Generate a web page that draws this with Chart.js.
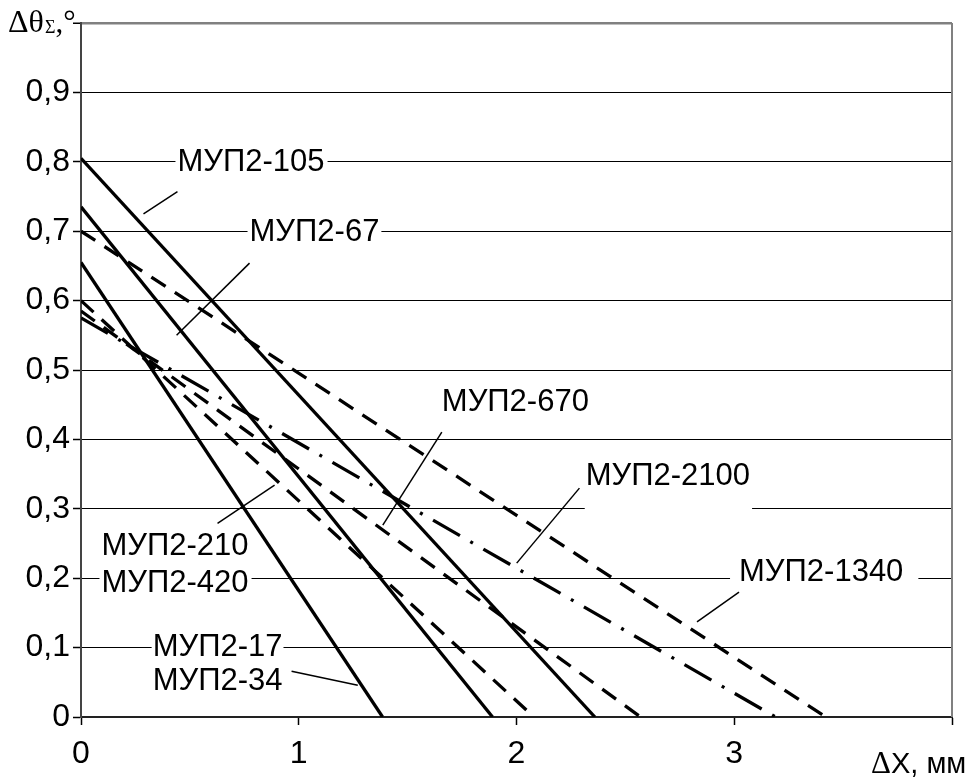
<!DOCTYPE html>
<html>
<head>
<meta charset="utf-8">
<script src="https://cdn.jsdelivr.net/npm/chart.js@4/dist/chart.umd.min.js"></script>
<style>
  html, body { margin: 0; padding: 0; background: #fff; }
  #wrap { width: 979px; height: 777px; }
</style>
</head>
<body>
<div id="wrap"><canvas id="myChart" width="979" height="777"></canvas></div>
<script>
// each curve is a straight line from (0, startY) down to (endX, 0)
const seriesNames = ['МУП2-105', 'МУП2-67', 'МУП2-17/34', 'МУП2-1340', 'МУП2-210/420', 'МУП2-670', 'МУП2-2100'];
const startY = [0.805, 0.735, 0.655, 0.70, 0.60, 0.585, 0.575];   // Δθ at ΔX = 0
const endX = [2.36, 1.89, 1.385, 3.42, 2.08, 2.57, 3.19];         // ΔX where Δθ = 0
const lineKind = ['solid', 'solid', 'solid', 'dash', 'dash', 'dash', 'dashdot'];

const xTicks = [0, 1, 2, 3, 4];
const yTicks = [0, 0.1, 0.2, 0.3, 0.4, 0.5, 0.6, 0.7, 0.8, 0.9, 1];

const sans = '"Liberation Sans", Arial, sans-serif';
const serif = '"Liberation Serif", "Times New Roman", serif';

const dashes = { solid: [], dash: [17, 11], dashdot: [31, 12, 3, 12] };

// callout labels: text lines, position in data units, leader line
const callouts = [
  { lines: ['МУП2-105'], x: 0.443, y: [0.801], padL: 2, padR: 3, padT: 4, padB: 4, leader: [[0.443, 0.757], [0.287, 0.725]] },
  { lines: ['МУП2-67'], x: 0.774, y: [0.70], padL: 2, padR: 2, padT: 4, padB: 4, leader: [[0.774, 0.654], [0.439, 0.55]] },
  { lines: ['МУП2-670'], x: 1.657, y: [0.454], padL: 2, padR: 2, padT: 4, padB: 4, leader: [[1.657, 0.4106], [1.386, 0.2765]] },
  { lines: ['МУП2-2100'], x: 2.318, y: [0.3486], padL: 1, padR: 2, padT: 4, padB: 26, leader: [[2.289, 0.3298], [2.001, 0.2217]] },
  { lines: ['МУП2-1340'], x: 3.022, y: [0.21], padL: 9, padR: 15, padT: 4, padB: 4, leader: [[3.022, 0.18], [2.829, 0.137]] },
  { lines: ['МУП2-210', 'МУП2-420'], x: 0.094, y: [0.2476, 0.194], padL: 2, padR: 3, padT: 4, padB: 4, leader: [[0.627, 0.279], [0.889, 0.334]] },
  { lines: ['МУП2-17', 'МУП2-34'], x: 0.329, y: [0.101, 0.053], padL: 1, padR: 1, padT: 4, padB: 4, leader: [[0.967, 0.066], [1.271, 0.0458]] }
];

const datasets = seriesNames.map((name, i) => ({
  label: name,
  data: [{ x: 0, y: startY[i] }, { x: endX[i], y: 0 }],
  showLine: true,
  borderColor: '#000',
  borderWidth: 3.3,
  borderDash: dashes[lineKind[i]],
  borderCapStyle: 'butt',
  pointRadius: 0,
  tension: 0,
  fill: false
}));

const decor = {
  id: 'decor',
  afterDatasetsDraw(chart) {
    const ctx = chart.ctx;
    const xs = chart.scales.x, ys = chart.scales.y;
    const a = chart.chartArea;
    ctx.save();
    // right frame line
    ctx.strokeStyle = '#808080';
    ctx.lineWidth = 2;
    ctx.beginPath();
    ctx.moveTo(a.right, a.top);
    ctx.lineTo(a.right, a.bottom);
    ctx.stroke();

    // callouts
    ctx.font = '31px ' + sans;
    ctx.textBaseline = 'middle';
    ctx.textAlign = 'left';
    callouts.forEach(c => {
      const px = xs.getPixelForValue(c.x);
      const w = Math.max(...c.lines.map(t => ctx.measureText(t).width));
      const ys0 = c.y.map(v => ys.getPixelForValue(v));
      const top = Math.min(...ys0) - 12 - c.padT;
      const bot = Math.max(...ys0) + 12 + c.padB;
      ctx.fillStyle = '#fff';
      ctx.fillRect(px - c.padL, top, w + c.padL + c.padR, bot - top);
      ctx.fillStyle = '#000';
      c.lines.forEach((t, k) => ctx.fillText(t, px, ys0[k] + 1));
      ctx.strokeStyle = '#000';
      ctx.lineWidth = 1.5;
      ctx.beginPath();
      ctx.moveTo(xs.getPixelForValue(c.leader[0][0]), ys.getPixelForValue(c.leader[0][1]));
      ctx.lineTo(xs.getPixelForValue(c.leader[1][0]), ys.getPixelForValue(c.leader[1][1]));
      ctx.stroke();
    });

    // y axis title: Δθ_Σ,°
    ctx.textBaseline = 'alphabetic';
    ctx.fillStyle = '#000';
    let tx = 8;
    const base = 32;
    ctx.font = '32px ' + serif;
    ctx.fillText('Δθ', tx, base);
    tx += ctx.measureText('Δθ').width + 1;
    ctx.font = '18px ' + serif;
    ctx.fillText('Σ', tx, base + 1);
    tx += ctx.measureText('Σ').width;
    ctx.font = '31px ' + serif;
    ctx.fillText(',°', tx, base);

    // x axis title: ΔX, мм
    const xb = 773;
    let ux = 871;
    ctx.font = '31px ' + serif;
    ctx.fillText('Δ', ux, xb);
    ux += ctx.measureText('Δ').width;
    ctx.font = '29px ' + sans;
    ctx.fillText('X, мм', ux, xb);
    ctx.restore();
  }
};

new Chart(document.getElementById('myChart').getContext('2d'), {
  type: 'scatter',
  data: { datasets: datasets },
  plugins: [decor],
  options: {
    responsive: false,
    animation: false,
    layout: { padding: { top: 23, right: 27, left: 0, bottom: 0 } },
    plugins: { legend: { display: false }, tooltip: { enabled: false } },
    scales: {
      x: {
        type: 'linear',
        min: 0,
        max: 4,
        afterBuildTicks: s => { s.ticks = xTicks.map(v => ({ value: v })); },
        afterFit: s => { s.height = 60; },
        ticks: {
          color: '#000',
          font: { family: sans, size: 32 },
          padding: 10,
          maxRotation: 0,
          callback: v => (v === 4 ? '' : String(v))
        },
        grid: { drawOnChartArea: false, drawTicks: true, tickLength: 8, tickColor: '#000', tickWidth: 1.5 },
        border: { display: true, color: '#222', width: 2 }
      },
      y: {
        type: 'linear',
        min: 0,
        max: 1,
        afterBuildTicks: s => { s.ticks = yTicks.map(v => ({ value: v })); },
        afterFit: s => { s.width = 81; },
        ticks: {
          color: '#000',
          font: { family: sans, size: 32 },
          padding: 3,
          callback: v => (v >= 1 ? '' : (v === 0 ? '0' : v.toFixed(1).replace('.', ',')))
        },
        grid: {
          color: c => (c.tick && c.tick.value === 1 ? '#808080' : '#000'),
          lineWidth: c => (c.tick && c.tick.value === 1 ? 2.5 : 1),
          tickLength: 8,
          tickColor: '#000',
          tickWidth: 1.5
        },
        border: { display: true, color: '#444', width: 2 }
      }
    }
  }
});
</script>
</body>
</html>
